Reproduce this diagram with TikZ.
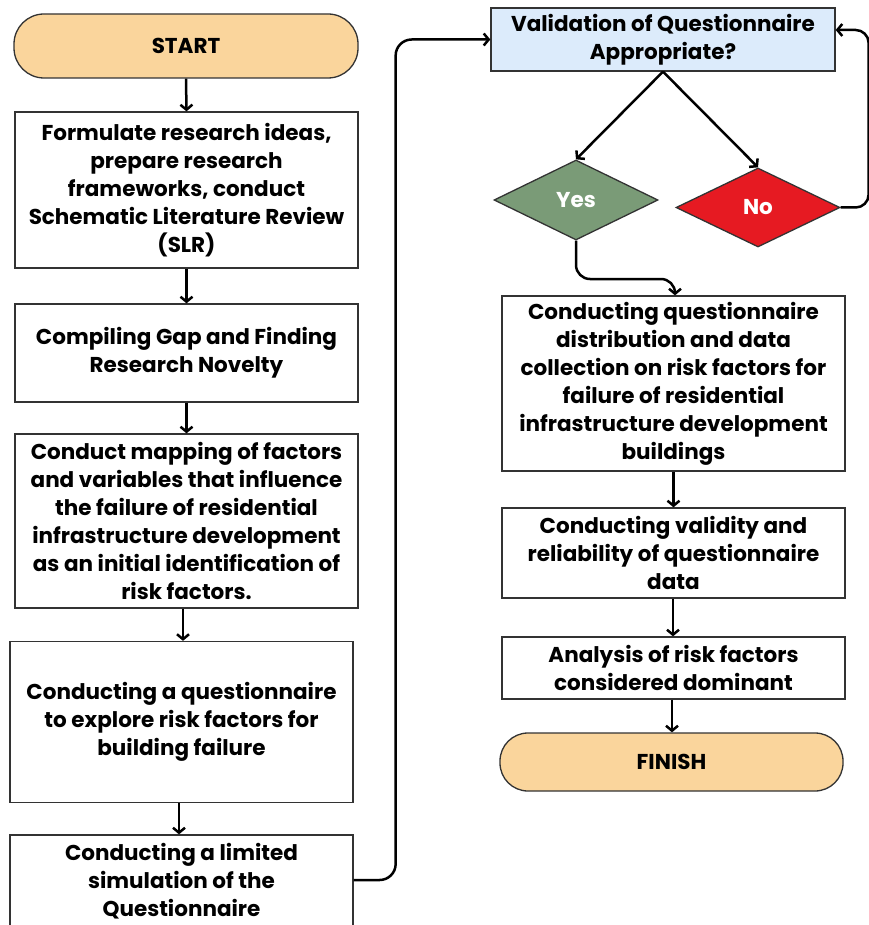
\documentclass[tikz,border=0pt]{standalone}
\usepackage{fontspec}
\setmainfont{Poppins}
\usetikzlibrary{arrows.meta,shapes.geometric}
\definecolor{startfill}{HTML}{FAD59C}
\definecolor{valfill}{HTML}{DCEBFB}
\definecolor{yesfill}{HTML}{7A9B77}
\definecolor{nofill}{HTML}{E61A22}
\definecolor{edge}{HTML}{333333}
\begin{document}
\begin{tikzpicture}[x=1pt,y=-1pt,
  txt/.style={font=\fontsize{21.5}{28}\selectfont\bfseries, align=center, text=black},
  box/.style={txt, draw=edge, line width=1.3pt, fill=white, minimum width=343pt, inner sep=0pt},
  term/.style={box, fill=startfill, rounded corners=30pt},
  dia/.style={draw=edge, line width=1.3pt, diamond, inner sep=0pt, minimum width=164pt, minimum height=80pt,
     font=\fontsize{21.5}{28}\selectfont\bfseries, text=white},
  arr/.style={draw=black, line width=2.5pt, -{Straight Barb[length=5pt,width=12pt]}}
]
\useasboundingbox (0,0) rectangle (868,925);
% left column
\node[term, minimum height=64pt, minimum width=344pt] (start) at (186,46) {START};
\node[box, minimum height=156pt] (b1) at (186.5,190) {Formulate research ideas,\\ prepare research\\ frameworks, conduct\\ Schematic Literature Review\\ (SLR)};
\node[box, minimum height=98pt] (b2) at (186.5,353) {Compiling Gap and Finding\\ Research Novelty};
\node[box, minimum height=174pt] (b3) at (186.5,521) {Conduct mapping of factors\\ and variables that influence\\ the failure of residential\\ infrastructure development\\ as an initial identification of\\ risk factors.};
\node[box, minimum height=161pt] (b4) at (181.5,722) {Conducting a questionnaire\\ to explore risk factors for\\ building failure};
\node[box, minimum height=93pt] (b5) at (181.5,881.5) {Conducting a limited\\ simulation of the\\ Questionnaire};
% right column
\node[box, fill=valfill, minimum height=63pt, minimum width=344pt] (val) at (663,39.5) {Validation of Questionnaire\\ Appropriate?};
\node[dia, fill=yesfill] (yes) at (576,200) {Yes};
\node[dia, fill=nofill, minimum height=79pt] (no) at (758,207.5) {No};
\node[box, minimum height=175pt] (r1) at (673.5,383.5) {Conducting questionnaire\\ distribution and data\\ collection on risk factors for\\ failure of residential\\ infrastructure development\\ buildings};
\node[box, minimum height=90pt] (r2) at (673.5,553) {Conducting validity and\\ reliability of questionnaire\\ data};
\node[box, minimum height=62pt] (r3) at (673.5,668) {Analysis of risk factors\\ considered dominant};
\node[term, minimum height=58pt, rounded corners=28pt] (fin) at (671.5,762) {FINISH};
\coordinate (yturn) at (675,279);
% connectors
\draw[arr] (start.south) -- (b1.north);
\draw[arr] (b1.south) -- (b2.north);
\draw[arr] (b2.south) -- (b3.north);
\draw[arr] ([xshift=-3.5pt]b3.south) -- ([xshift=-3.5pt]b3.south |- b4.north);
\draw[arr] ([xshift=-2.5pt]b4.south) -- ([xshift=-2.5pt]b4.south |- b5.north);
\draw[arr, rounded corners=16pt] ([yshift=1.5pt]b5.east) -- ++(42,0) |- (val.west);
\draw[arr] (val.south) -- (yes.north);
\draw[arr] (val.south) -- (no.north);
\draw[arr, rounded corners=13pt] (no.east) -- ++(28,0) |- ([yshift=9.5pt]val.east);
\draw[arr, rounded corners=14pt] (yes.south) |- (yturn) -- (yturn |- r1.north);
\draw[arr] (r1.south) -- (r2.north);
\draw[arr] ([xshift=-0.5pt]r2.south) -- ([xshift=-0.5pt]r2.south |- r3.north);
\draw[arr] ([xshift=-1.5pt]r3.south) -- ([xshift=-1.5pt]r3.south |- fin.north);
\end{tikzpicture}
\end{document}
